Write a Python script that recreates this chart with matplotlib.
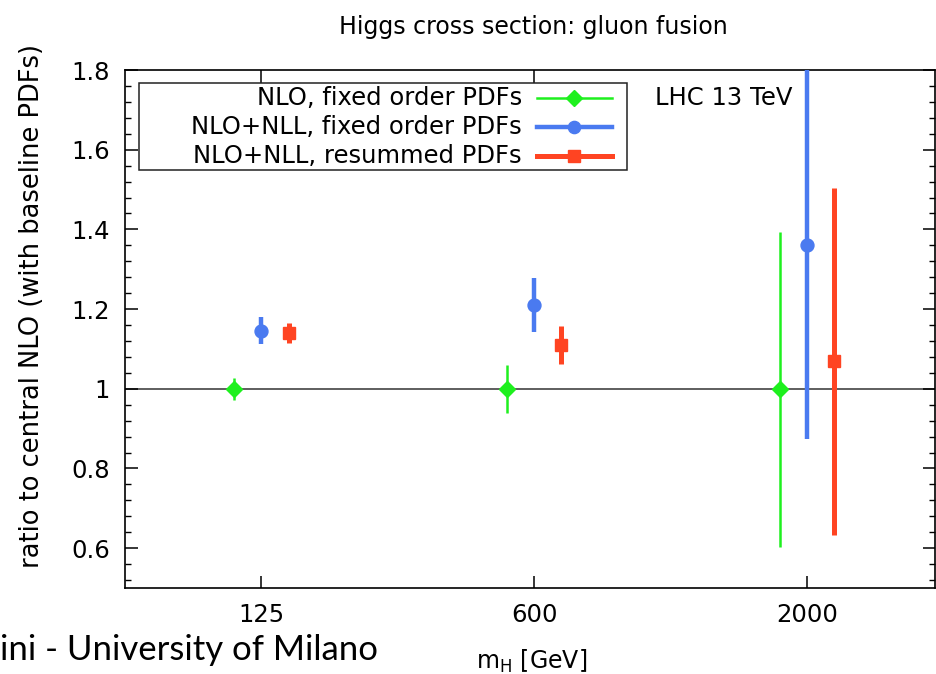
import numpy as np
import matplotlib
matplotlib.use('Agg')
import matplotlib.pyplot as plt
from matplotlib.ticker import MultipleLocator
from matplotlib.patches import Rectangle
from matplotlib.lines import Line2D

# mass points (GeV) and ratio values
masses = ['125', '600', '2000']
nlo_fixed = [1.0, 1.0, 1.0]
nlo_fixed_lo = [0.973, 0.938, 0.604]
nlo_fixed_hi = [1.028, 1.059, 1.394]

nll_fixed = [1.144, 1.210, 1.362]
nll_fixed_lo = [1.112, 1.142, 0.875]
nll_fixed_hi = [1.180, 1.278, 1.850]

nll_resum = [1.139, 1.109, 1.069]
nll_resum_lo = [1.114, 1.061, 0.632]
nll_resum_hi = [1.164, 1.157, 1.505]

labels = ['NLO, fixed order PDFs', 'NLO+NLL, fixed order PDFs', 'NLO+NLL, resummed PDFs']

green = '#1ef01e'
blue = '#4a7af0'
red = '#ff4422'

plt.rcParams['font.family'] = ['DejaVu Sans']

W, H = 936, 674
fig = plt.figure(figsize=(W / 100, H / 100), dpi=100)
ax = fig.add_axes([125 / W, 1 - 588 / H, 810 / W, 518 / H])

def fx(px):
    return px / W

def fy(py):
    return 1 - py / H

x = np.arange(1, len(masses) + 1)

def errs(vals, lo, hi):
    vals = np.array(vals)
    return [vals - np.array(lo), np.array(hi) - vals]

ax.axhline(1.0, color='#333333', lw=1.1, zorder=1)

styles = [
    dict(fmt='D', color=green, ms=8.5, elinewidth=1.8, lw=1.8),
    dict(fmt='o', color=blue, ms=9.3, elinewidth=3.2, lw=3.2),
    dict(fmt='s', color=red, ms=8.8, elinewidth=3.6, lw=3.6),
]
series = [
    (x - 0.1, nlo_fixed, nlo_fixed_lo, nlo_fixed_hi),
    (x, nll_fixed, nll_fixed_lo, nll_fixed_hi),
    (x + 0.1, nll_resum, nll_resum_lo, nll_resum_hi),
]
for (xs, v, lo, hi), st in zip(series, styles):
    ax.errorbar(xs, v, yerr=errs(v, lo, hi), capsize=0, zorder=3, **st)

ax.set_xlim(0.5, 3.47)
ax.set_ylim(0.5, 1.8)
ax.set_xticks(x)
ax.set_xticklabels(masses)
ax.yaxis.set_minor_locator(MultipleLocator(0.04))
ax.set_yticks([0.6, 0.8, 1.0, 1.2, 1.4, 1.6, 1.8])
ax.set_yticklabels(['0.6', '0.8', '1', '1.2', '1.4', '1.6', '1.8'])

ax.tick_params(axis='both', which='major', direction='in', length=9, width=1.1,
               top=True, right=True, labelsize=17.5, pad=11)
ax.tick_params(axis='y', which='minor', direction='in', length=4.5, width=1,
               right=True)
for s in ax.spines.values():
    s.set_linewidth(1.2)

ax.set_ylabel('ratio to central NLO (with baseline PDFs)', fontsize=18.5)
ax.yaxis.set_label_coords(-0.099, 0.544)
ax.set_xlabel(r'm$_\mathrm{H}$ [GeV]', fontsize=17, va='top')
ax.xaxis.set_label_coords(0.5025, -0.115)
fig.text(fx(533), fy(27), 'Higgs cross section: gluon fusion', fontsize=17,
         ha='center', va='center')

fig.text(fx(655), fy(98), 'LHC 13 TeV', fontsize=17.5, ha='left', va='center')

# key box, drawn like the gnuplot key
fig.add_artist(Rectangle((fx(139), fy(170)), fx(627) - fx(139), fy(83) - fy(170),
                         transform=fig.transFigure, fill=False,
                         edgecolor='#222222', lw=1.1))
rows = [98, 127, 156]
for py, lab, st in zip(rows, labels, styles):
    fig.text(fx(522), fy(py), lab, fontsize=17.5, ha='right', va='center')
    fig.add_artist(Line2D([fx(537), fx(612)], [fy(py), fy(py)],
                          transform=fig.transFigure, color=st['color'], lw=st['lw']))
    fig.add_artist(Line2D([fx(574)], [fy(py)], transform=fig.transFigure,
                          marker=st['fmt'], ms=st['ms'] - 0.5, color=st['color'], lw=0))

fig.text(0.0, fy(660), 'ini - University of Milano', fontsize=25,
         family=['Lato', 'DejaVu Sans'], ha='left', va='baseline')

fig.savefig('out.png', dpi=100)
